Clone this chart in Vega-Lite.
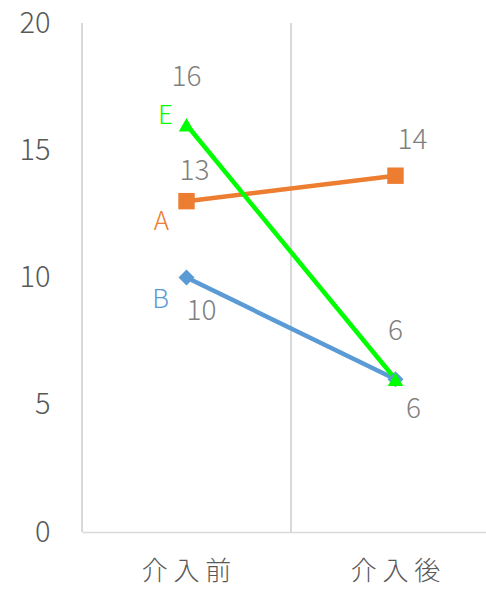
{
  "$schema": "https://vega.github.io/schema/vega-lite/v6.json",
  "autosize": "none",
  "width": 418,
  "height": 509,
  "padding": {"left": 82, "top": 23, "right": 0, "bottom": 57},
  "background": "white",
  "config": {
    "view": {"stroke": null},
    "font": "Noto Sans CJK JP",
    "text": {"font": "Noto Sans CJK JP", "fontWeight": 300},
    "axis": {"labelFontWeight": 300}
  },
  "data": {
    "values": [
      {"series": "A", "phase": "介入前", "value": 13},
      {"series": "A", "phase": "介入後", "value": 14},
      {"series": "B", "phase": "介入前", "value": 10},
      {"series": "B", "phase": "介入後", "value": 6},
      {"series": "E", "phase": "介入前", "value": 16},
      {"series": "E", "phase": "介入後", "value": 6}
    ]
  },
  "encoding": {
    "x": {
      "field": "phase", "type": "nominal", "sort": ["介入前", "介入後"],
      "scale": {"paddingInner": 0, "paddingOuter": 0},
      "axis": {
        "title": null, "grid": false, "ticks": false,
        "domainColor": "#d9d9d9", "domainWidth": 1.5,
        "labelAngle": 0, "labelFontSize": 26, "labelColor": "#595959",
        "labelPadding": 26, "labelExpr": "join(split(datum.label, ''), ' ')"
      }
    },
    "y": {
      "field": "value", "type": "quantitative",
      "scale": {"domain": [0, 20], "nice": false},
      "axis": {
        "title": null, "grid": false, "domain": false, "ticks": false,
        "values": [0, 5, 10, 15, 20],
        "labelFontSize": 29, "labelColor": "#595959", "labelPadding": 32
      }
    }
  },
  "layer": [
    {
      "mark": {"type": "rule", "color": "#d9d9d9", "strokeWidth": 1.5},
      "encoding": {
        "x": {"field": "phase", "type": "nominal", "sort": ["介入前", "介入後"], "bandPosition": 0},
        "y": null
      }
    },
    {
      "mark": {"type": "line", "strokeWidth": 4.5},
      "encoding": {
        "color": {
          "field": "series", "type": "nominal",
          "scale": {"domain": ["A", "B", "E"], "range": ["#ED7D31", "#5B9BD5", "#00FF00"]},
          "legend": null
        }
      }
    },
    {
      "mark": {"type": "point", "filled": true, "opacity": 1},
      "encoding": {
        "color": {
          "field": "series", "type": "nominal",
          "scale": {"domain": ["A", "B", "E"], "range": ["#ED7D31", "#5B9BD5", "#00FF00"]},
          "legend": null
        },
        "shape": {
          "field": "series", "type": "nominal",
          "scale": {"domain": ["A", "B", "E"], "range": ["square", "diamond", "triangle-up"]},
          "legend": null
        },
        "size": {
          "field": "series", "type": "nominal",
          "scale": {"domain": ["A", "B", "E"], "range": [270, 240, 300]},
          "legend": null
        }
      }
    },
    {
      "transform": [{"filter": "datum.series === 'E'"}],
      "mark": {"type": "text", "fontSize": 28, "color": "#7f7f7f", "dy": -47},
      "encoding": {"text": {"field": "value", "type": "quantitative"}}
    },
    {
      "transform": [{"filter": "datum.series === 'A' && datum.phase === '介入前'"}],
      "mark": {"type": "text", "fontSize": 28, "color": "#7f7f7f", "dx": 8, "dy": -29},
      "encoding": {"text": {"field": "value", "type": "quantitative"}}
    },
    {
      "transform": [{"filter": "datum.series === 'A' && datum.phase === '介入後'"}],
      "mark": {"type": "text", "fontSize": 28, "color": "#7f7f7f", "dx": 17, "dy": -35},
      "encoding": {"text": {"field": "value", "type": "quantitative"}}
    },
    {
      "transform": [{"filter": "datum.series === 'B' && datum.phase === '介入前'"}],
      "mark": {"type": "text", "fontSize": 28, "color": "#7f7f7f", "dx": 15, "dy": 34},
      "encoding": {"text": {"field": "value", "type": "quantitative"}}
    },
    {
      "transform": [{"filter": "datum.series === 'B' && datum.phase === '介入後'"}],
      "mark": {"type": "text", "fontSize": 28, "color": "#7f7f7f", "dx": 18, "dy": 31},
      "encoding": {"text": {"field": "value", "type": "quantitative"}}
    },
    {
      "transform": [{"filter": "datum.series === 'E' && datum.phase === '介入前'"}],
      "mark": {"type": "text", "fontSize": 26, "color": "#00FF00", "dx": -21, "dy": -9},
      "encoding": {"text": {"field": "series", "type": "nominal"}}
    },
    {
      "transform": [{"filter": "datum.series === 'A' && datum.phase === '介入前'"}],
      "mark": {"type": "text", "fontSize": 26, "color": "#ED7D31", "dx": -25, "dy": 21},
      "encoding": {"text": {"field": "series", "type": "nominal"}}
    },
    {
      "transform": [{"filter": "datum.series === 'B' && datum.phase === '介入前'"}],
      "mark": {"type": "text", "fontSize": 26, "color": "#5B9BD5", "dx": -26, "dy": 22},
      "encoding": {"text": {"field": "series", "type": "nominal"}}
    }
  ]
}
